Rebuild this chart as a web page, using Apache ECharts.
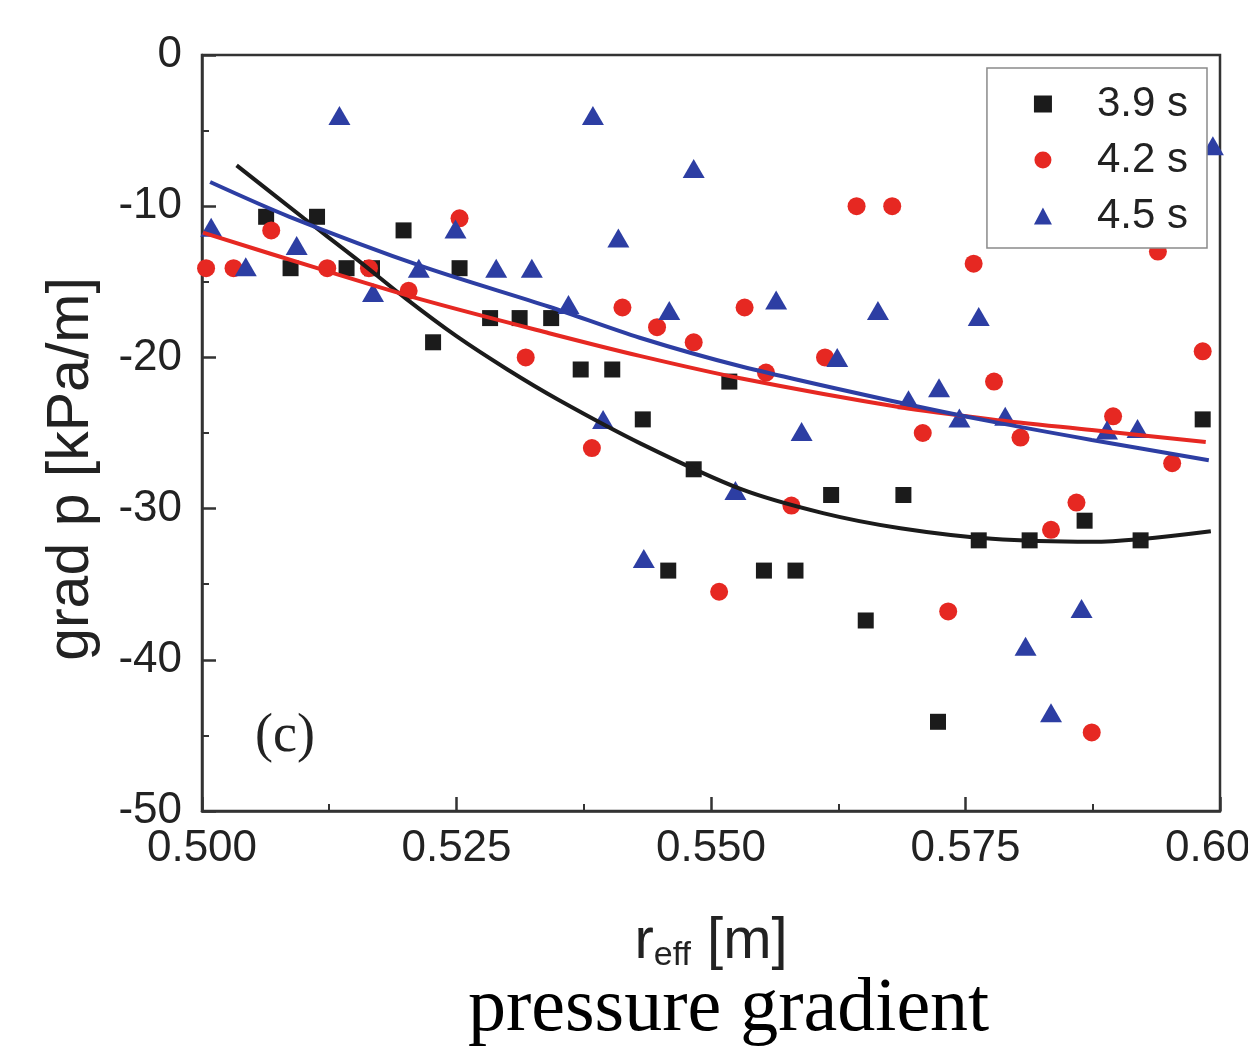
<!DOCTYPE html>
<html>
<head>
<meta charset="utf-8">
<script src="https://cdn.jsdelivr.net/npm/echarts@6/dist/echarts.min.js"></script>
<style>
  html, body { margin: 0; padding: 0; background: #fff; }
  #chart { width: 1248px; height: 1054px; }
</style>
</head>
<body>
<div id="chart"></div>
<script>
// tick labels
var xTickLabels = ['0.500', '0.525', '0.550', '0.575', '0.600'];
var xTickValues = [0.5, 0.525, 0.55, 0.575, 0.6];

// 3.9 s
var x39 = [0.5063, 0.5087, 0.5113, 0.5142, 0.5167, 0.5198, 0.5227, 0.5253, 0.5283, 0.5312,
  0.5343, 0.5372, 0.5403, 0.5433, 0.5458, 0.5483, 0.5518, 0.5552, 0.5583, 0.5618,
  0.5652, 0.5689, 0.5723, 0.5763, 0.5813, 0.5867, 0.5922, 0.5983];
var y39 = [-10.7, -14.1, -10.7, -14.1, -14.1, -11.6, -19.0, -14.1, -17.4, -17.4,
  -17.4, -20.8, -20.8, -24.1, -34.1, -27.4, -21.6, -34.1, -34.1, -29.1,
  -37.4, -29.1, -44.1, -32.1, -32.1, -30.8, -32.1, -24.1];

// 4.2 s
var x42 = [0.5004, 0.5031, 0.5068, 0.5123, 0.5164, 0.5203, 0.5253, 0.5318, 0.5383, 0.5413,
  0.5447, 0.5483, 0.5508, 0.5533, 0.5554, 0.5579, 0.5612, 0.5643, 0.5678, 0.5708,
  0.5733, 0.5758, 0.5778, 0.5804, 0.5834, 0.5859, 0.5874, 0.5895, 0.5939, 0.5953, 0.5983];
var y42 = [-14.1, -14.1, -11.6, -14.1, -14.1, -15.6, -10.8, -20.0, -26.0, -16.7,
  -18.0, -19.0, -35.5, -16.7, -21.0, -29.8, -20.0, -10.0, -10.0, -25.0,
  -36.8, -13.8, -21.6, -25.3, -31.4, -29.6, -44.8, -23.9, -13.0, -27.0, -19.6];

// 4.5 s
var x45 = [0.5009, 0.5043, 0.5093, 0.5135, 0.5168, 0.5213, 0.5249, 0.5289, 0.5324, 0.5360,
  0.5384, 0.5394, 0.5409, 0.5434, 0.5459, 0.5483, 0.5524, 0.5564, 0.5589, 0.5624,
  0.5664, 0.5694, 0.5724, 0.5744, 0.5763, 0.5789, 0.5809, 0.5834, 0.5864, 0.5889,
  0.5919, 0.5993];
var y45 = [-11.4, -14.0, -12.6, -4.0, -15.7, -14.1, -11.5, -14.1, -14.1, -16.5,
  -4.0, -24.1, -12.1, -33.3, -16.9, -7.5, -28.8, -16.2, -24.9, -20.0,
  -16.9, -22.8, -22.0, -24.0, -17.3, -23.9, -39.1, -43.5, -36.6, -24.8,
  -24.7, -6.0];

// fitted curves
var fitX39 = [0.5034, 0.5100, 0.5150, 0.5200, 0.5250, 0.5300, 0.5350, 0.5431, 0.5529, 0.5610, 0.5686, 0.5776, 0.5874, 0.5991];
var fitY39 = [-7.3, -10.8, -13.4, -16.1, -18.6, -20.8, -22.8, -25.7, -28.7, -30.3, -31.3, -32.0, -32.2, -31.5];
var fitX42 = [0.5001, 0.5118, 0.5217, 0.5341, 0.5430, 0.5530, 0.5686, 0.5776, 0.5874, 0.5986];
var fitY42 = [-11.75, -14.2, -16.2, -18.4, -19.9, -21.4, -23.3, -24.1, -24.8, -25.6];
var fitX45 = [0.5008, 0.5086, 0.5217, 0.5341, 0.5430, 0.5530, 0.5686, 0.5776, 0.5874, 0.5989];
var fitY45 = [-8.4, -10.7, -14.0, -16.65, -18.7, -20.6, -23.0, -24.25, -25.46, -26.8];

var cBlack = '#1b1b1b', cRed = '#e62822', cBlue = '#2d3ea3';

function pairs(xs, ys) {
  return xs.map(function (x, i) { return [x, ys[i]]; });
}

var font = 'Liberation Sans, Arial, sans-serif';
var serif = 'Liberation Serif, Times New Roman, serif';

var option = {
  backgroundColor: '#fff',
  animation: false,
  grid: {
    left: 202, right: 28, top: 55, bottom: 243,
    outerBoundsMode: 'none', containLabel: false,
    show: true, borderColor: '#333', borderWidth: 2.5
  },
  legend: {
    orient: 'vertical',
    right: 41, top: 68,
    data: ['3.9 s', '4.2 s', '4.5 s'],
    itemWidth: 18, itemHeight: 17, itemGap: 14,
    padding: [15, 19, 11, 47],
    borderColor: '#8a8a8a', borderWidth: 1.5,
    backgroundColor: '#fff',
    textStyle: { fontFamily: font, fontSize: 42, color: '#222', padding: [0, 0, 0, 40] }
  },
  xAxis: {
    type: 'value', min: 0.5, max: 0.6, interval: 0.025,
    name: '{a|r}{b|eff}{a| [m]}',
    nameLocation: 'middle', nameGap: 100,
    nameTextStyle: {
      fontFamily: font, color: '#222',
      rich: {
        a: { fontFamily: font, fontSize: 58, color: '#222' },
        b: { fontFamily: font, fontSize: 34, color: '#222', padding: [28, 0, 0, 0] }
      }
    },
    axisLine: { onZero: false, lineStyle: { color: '#333', width: 2.5 } },
    axisTick: { inside: true, length: 14, lineStyle: { color: '#333', width: 2.5 } },
    minorTick: { show: true, splitNumber: 2, length: 7, lineStyle: { color: '#333', width: 2 } },
    splitLine: { show: false },
    axisLabel: {
      fontFamily: font, fontSize: 44, color: '#222', margin: 16,
      formatter: function (v) {
        for (var i = 0; i < xTickValues.length; i++) {
          if (Math.abs(v - xTickValues[i]) < 1e-6) return xTickLabels[i];
        }
        return '';
      }
    }
  },
  yAxis: {
    type: 'value', min: -50, max: 0, interval: 10,
    name: 'grad p [kPa/m]',
    nameLocation: 'middle', nameGap: 101,
    nameTextStyle: { fontFamily: font, fontSize: 59, color: '#222', padding: [0, 72, 0, 0] },
    axisLine: { onZero: false, lineStyle: { color: '#333', width: 2.5 } },
    axisTick: { inside: true, length: 14, lineStyle: { color: '#333', width: 2.5 } },
    minorTick: { show: true, splitNumber: 2, length: 7, lineStyle: { color: '#333', width: 2 } },
    splitLine: { show: false },
    axisLabel: { fontFamily: font, fontSize: 44, color: '#222', margin: 20 }
  },
  graphic: [
    {
      type: 'text', left: 255, top: 710,
      style: { text: '(c)', fontFamily: serif, fontSize: 54, fill: '#222' }
    },
    {
      type: 'text', left: 468, top: 972,
      style: { text: 'pressure gradient', fontFamily: serif, fontSize: 76, fill: '#000' }
    }
  ],
  series: [
    {
      name: '3.9 s', type: 'scatter', symbol: 'rect', symbolSize: 16,
      itemStyle: { color: cBlack, opacity: 1 }, data: pairs(x39, y39)
    },
    {
      name: '4.2 s', type: 'scatter', symbol: 'circle', symbolSize: 18,
      itemStyle: { color: cRed, opacity: 1 }, data: pairs(x42, y42)
    },
    {
      name: '4.5 s', type: 'scatter', symbol: 'triangle', symbolSize: [22, 19],
      itemStyle: { color: cBlue, opacity: 1 }, data: pairs(x45, y45)
    },
    {
      name: 'fit 3.9 s', type: 'line', smooth: 0.3, showSymbol: false, z: 3,
      lineStyle: { color: cBlack, width: 4 }, data: pairs(fitX39, fitY39)
    },
    {
      name: 'fit 4.2 s', type: 'line', smooth: 0.3, showSymbol: false, z: 3,
      lineStyle: { color: cRed, width: 4 }, data: pairs(fitX42, fitY42)
    },
    {
      name: 'fit 4.5 s', type: 'line', smooth: 0.3, showSymbol: false, z: 3,
      lineStyle: { color: cBlue, width: 4 }, data: pairs(fitX45, fitY45)
    }
  ]
};

var myChart = echarts.init(document.getElementById('chart'));
myChart.setOption(option);
</script>
</body>
</html>
